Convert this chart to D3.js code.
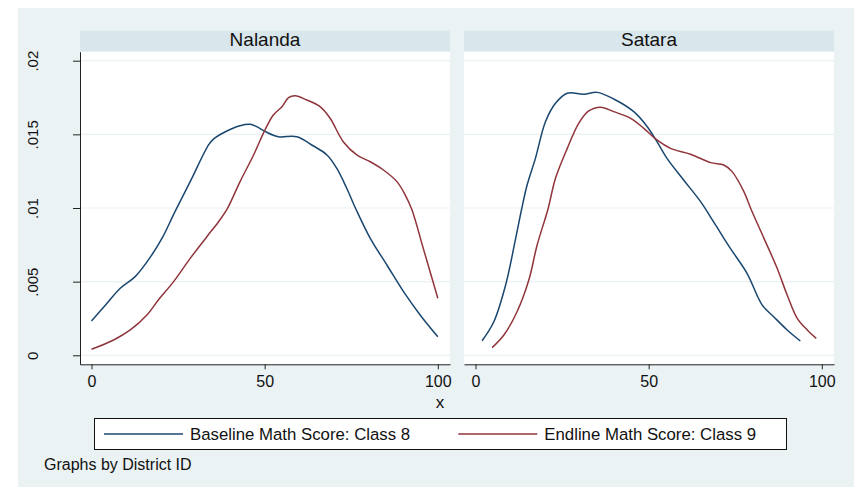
<!DOCTYPE html>
<html>
<head>
<meta charset="utf-8">
<script src="https://cdn.jsdelivr.net/npm/d3@7"></script>
<style>
  body { margin: 0; background: #fff; }
  text { font-family: "Liberation Sans", Arial, sans-serif; fill: #111; }
</style>
</head>
<body>
<div id="chart"></div>
<script>
// Data: [score, density]
const districts = ["Nalanda", "Satara"];
const seriesNames = ["Baseline Math Score: Class 8", "Endline Math Score: Class 9"];
const seriesColors = ["#1a476f", "#90353b"];

const nalandaBase = [[0,.00233],[4,.0034],[8.3,.00455],[12.6,.00534],[17.4,.00681],[20.5,.0080],[24,.0097],
  [28.5,.01179],[33.8,.01428],[35.2,.01468],[39.1,.01523],[42.9,.01559],[45.8,.01568],[47.7,.01552],[50.6,.01514],
  [54,.01484],[59.3,.01484],[64.1,.01421],[68,.0136],[70.8,.0127],[73.7,.01134],[76.4,.0099],[80.5,.00794],
  [85.3,.00613],[90.1,.00432],[94.9,.00274],[100,.00126]];
const nalandaEnd = [[0,.00041],[6.4,.00104],[11.2,.00172],[16,.00274],[19.3,.00375],[23.7,.005],[28.5,.00658],
  [33.3,.00805],[36.7,.00907],[39.1,.0099],[42.9,.01179],[46.8,.0136],[50.1,.0153],[52.5,.01631],[55,.01688],
  [56.9,.01749],[58.8,.01762],[62.2,.01733],[66,.01688],[68.9,.01609],[72.7,.0145],[76.6,.0136],[80.5,.01314],
  [84.3,.01258],[88.2,.01179],[90.6,.01088],[92.5,.0099],[95.8,.00726],[100,.00387]];
const sataraBase = [[1.9,.00099],[5.3,.00228],[8.7,.00477],[11.6,.00794],[13.3,.0099],[14.9,.01156],[17.3,.01337],
  [20.2,.01586],[23.1,.01711],[26.5,.01779],[31.3,.01772],[35.1,.01785],[39.9,.0174],[45.7,.01654],[49.6,.01552],
  [52.4,.0145],[55.3,.01337],[60.1,.0119],[65,.01043],[69.3,.00885],[73.6,.00726],[78.4,.00557],
  [82.8,.00341],[86.1,.00262],[90,.00172],[93.8,.00097]];
const sataraEnd = [[4.8,.00052],[8.2,.00138],[12,.00296],[15.4,.00511],[17.8,.00749],[20.9,.0099],[23.1,.01202],
  [26.5,.01405],[29.8,.01575],[32.7,.01659],[36.1,.01684],[39.9,.01654],[44.8,.01609],[48.6,.01541],[52.4,.01462],
  [56.3,.01405],[62.1,.01365],[67.9,.01308],[71.7,.01292],[74.1,.01247],[77.5,.01111],[79.6,.0099],[83.3,.00794],
  [87.1,.00591],[90,.00409],[92.9,.00251],[95.8,.00172],[98.4,.00115]];

const xTicks = [0, 50, 100];
const yTicks = [0, .005, .01, .015, .02];

const panelData = [[nalandaBase, nalandaEnd], [sataraBase, sataraEnd]];

// Layout
const W = 854, H = 487;
const panelW = 370, plotTop = 51.7, plotH = 312.6, stripH = 21;
const panelX = [80, 464];

const svg = d3.select("#chart").append("svg")
  .attr("width", W).attr("height", H);

svg.append("rect").attr("x", 18).attr("y", 8)
  .attr("width", W - 18).attr("height", H - 8)
  .attr("fill", "#eaf2f3");

const x = d3.scaleLinear().domain([-3.32, 103.52]).range([0, panelW]);
const y = d3.scaleLinear().domain([-0.000611, 0.020611]).range([plotH, 0]);

const fmt = d => d === 0 ? "0" : String(+d.toFixed(3)).replace(/^0/, "");

const line = d3.line()
  .x(d => x(d[0]))
  .y(d => y(d[1]))
  .curve(d3.curveCatmullRom.alpha(0.5));

districts.forEach((name, i) => {
  const g = svg.append("g")
    .attr("transform", `translate(${panelX[i]},${plotTop})`);

  // strip header
  g.append("rect")
    .attr("x", 0).attr("y", -stripH)
    .attr("width", panelW).attr("height", stripH)
    .attr("fill", "#d9e6eb");
  g.append("text")
    .attr("x", panelW / 2).attr("y", -6)
    .attr("text-anchor", "middle")
    .style("font-size", "19px")
    .text(name);

  // plot region
  g.append("rect")
    .attr("width", panelW).attr("height", plotH)
    .attr("fill", "#fff");

  g.selectAll(".grid")
    .data(yTicks)
    .enter().append("line")
    .attr("class", "grid")
    .attr("x1", 0).attr("x2", panelW)
    .attr("y1", d => y(d)).attr("y2", d => y(d))
    .attr("stroke", "#eaf2f3")
    .attr("stroke-width", 1.2);

  panelData[i].forEach((s, j) => {
    g.append("path")
      .datum(s)
      .attr("fill", "none")
      .attr("stroke", seriesColors[j])
      .attr("stroke-width", 1.5)
      .attr("d", line);
  });

  // x axis
  const xa = g.append("g")
    .attr("transform", `translate(0,${plotH})`)
    .call(d3.axisBottom(x).tickValues(xTicks).tickSize(5).tickSizeOuter(0).tickPadding(6));
  xa.select(".domain").attr("stroke", "#222");
  xa.selectAll(".tick line").attr("stroke", "#222");
  xa.selectAll(".tick text")
    .style("font-size", "16px")
    .attr("fill", "#111")
    .attr("font-family", null);

  if (i === 0) {
    const ya = g.append("g")
      .call(d3.axisLeft(y).tickValues(yTicks).tickFormat(fmt).tickSize(7).tickSizeOuter(0));
    ya.select(".domain").attr("stroke", "#222");
    ya.selectAll(".tick line").attr("stroke", "#222");
    ya.selectAll(".tick text")
      .attr("x", null).attr("dy", null)
      .attr("transform", "translate(-42,0) rotate(-90)")
      .attr("text-anchor", "middle")
      .attr("fill", "#111")
      .attr("font-family", null)
      .style("font-size", "15px");
  }
});

// x title
svg.append("text")
  .attr("x", 440).attr("y", 408)
  .attr("text-anchor", "middle")
  .style("font-size", "17px")
  .text("x");

// legend
const legend = svg.append("g");
legend.append("rect")
  .attr("x", 94.5).attr("y", 418.5)
  .attr("width", 692).attr("height", 31)
  .attr("fill", "#fff").attr("stroke", "#111").attr("stroke-width", 1);

const legX = [104, 458.3];
seriesNames.forEach((n, j) => {
  legend.append("line")
    .attr("x1", legX[j]).attr("x2", legX[j] + 79)
    .attr("y1", 434).attr("y2", 434)
    .attr("stroke", seriesColors[j]).attr("stroke-width", 1.5);
  legend.append("text")
    .attr("x", legX[j] + 86).attr("y", 440)
    .style("font-size", "16.8px")
    .text(n);
});

svg.append("text")
  .attr("x", 44).attr("y", 470)
  .style("font-size", "16px")
  .text("Graphs by District ID");
</script>
</body>
</html>
